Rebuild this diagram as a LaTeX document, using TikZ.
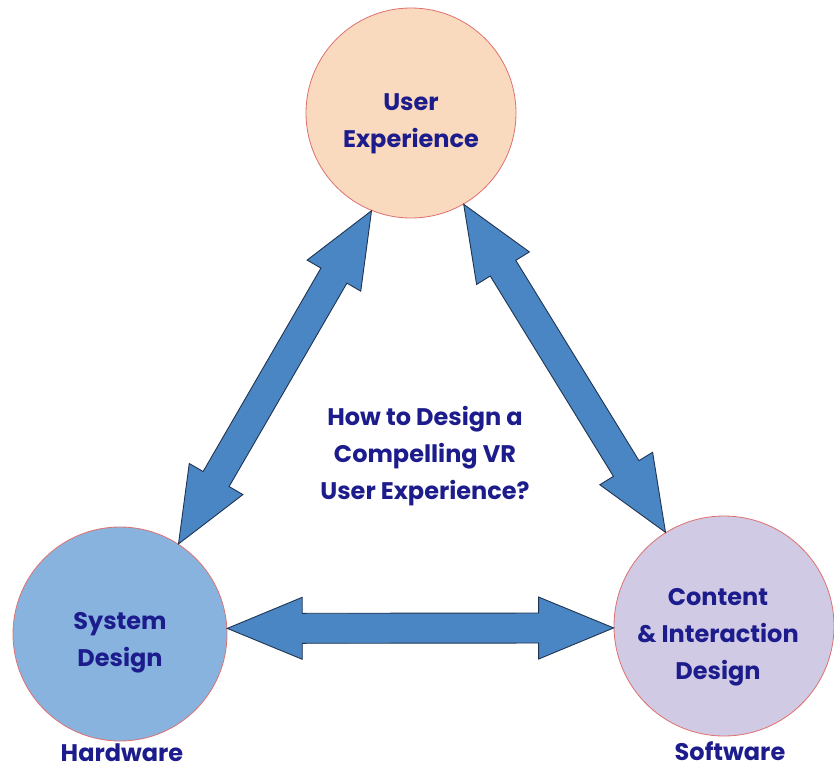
\documentclass[tikz,border=0pt]{standalone}
\usepackage{fontspec}
\setmainfont{Poppins}
\usetikzlibrary{calc}

\definecolor{peach}{RGB}{250,218,190}
\definecolor{skyblue}{RGB}{137,179,223}
\definecolor{lavender}{RGB}{208,202,228}
\definecolor{rimred}{RGB}{222,112,112}
\definecolor{navytext}{RGB}{28,28,140}
\definecolor{arrowblue}{RGB}{74,134,196}
\definecolor{arrowrim}{RGB}{32,52,82}

% double headed block arrow between two points
\newcommand{\twoway}[2]{%
  \draw[blockarrow] (#1)
    -- ($(#1)!75pt!(#2)!31pt!90:(#2)$)
    -- ($(#1)!75pt!(#2)!15pt!90:(#2)$)
    -- ($(#2)!75pt!(#1)!15pt!-90:(#1)$)
    -- ($(#2)!75pt!(#1)!31pt!-90:(#1)$)
    -- (#2)
    -- ($(#2)!75pt!(#1)!31pt!90:(#1)$)
    -- ($(#2)!75pt!(#1)!15pt!90:(#1)$)
    -- ($(#1)!75pt!(#2)!15pt!-90:(#2)$)
    -- ($(#1)!75pt!(#2)!31pt!-90:(#2)$)
    -- cycle;}

\begin{document}
\begin{tikzpicture}[x=1pt, y=-1pt]
    \tikzset{topic/.style={draw=rimred, line width=0.8pt, circle, inner sep=0pt}};
    \tikzset{caption/.style={align=center, font=\fontsize{24}{37}\selectfont\bfseries, text=navytext}};
    \tikzset{blockarrow/.style={draw=arrowrim, line width=0.9pt, fill=arrowblue, line join=miter}};

    \useasboundingbox[fill=white] (0, 0) rectangle (834, 771);

    % Circles
    \node [topic, fill=peach, minimum size=210] (ux) at (411, 113) {};
    \node [topic, fill=skyblue, minimum size=214] (sd) at (120, 634) {};
    \node [topic, fill=lavender, minimum size=220] (ci) at (724, 626) {};

    % Texts
    \node [caption] (uxt) at (411, 124) {User\\Experience};
    \node [caption] (sdt) at (120, 643) {System\\Design};
    \node [caption] (cit) at (718, 637) {Content\\\& Interaction\\Design};
    \node [caption] (q) at (425, 456) {How to Design a\\Compelling VR\\User Experience?};
    \node [caption] (hw) at (122, 753) {Hardware};
    \node [caption] (sw) at (730, 751) {Software};

    % Arrow ends
    \path (ux.248) coordinate (uxl);
    \path (ux.300) coordinate (uxr);
    \path (sd.57) coordinate (sdu);
    \path (sd.3) coordinate (sdr);
    \path (ci.122) coordinate (ciu);
    \path (ci.181) coordinate (cil);

    % Arrows
    \foreach \i/\j in {sdu/uxl, uxr/ciu, sdr/cil} { \twoway{\i}{\j} };
  \end{tikzpicture}
\end{document}
